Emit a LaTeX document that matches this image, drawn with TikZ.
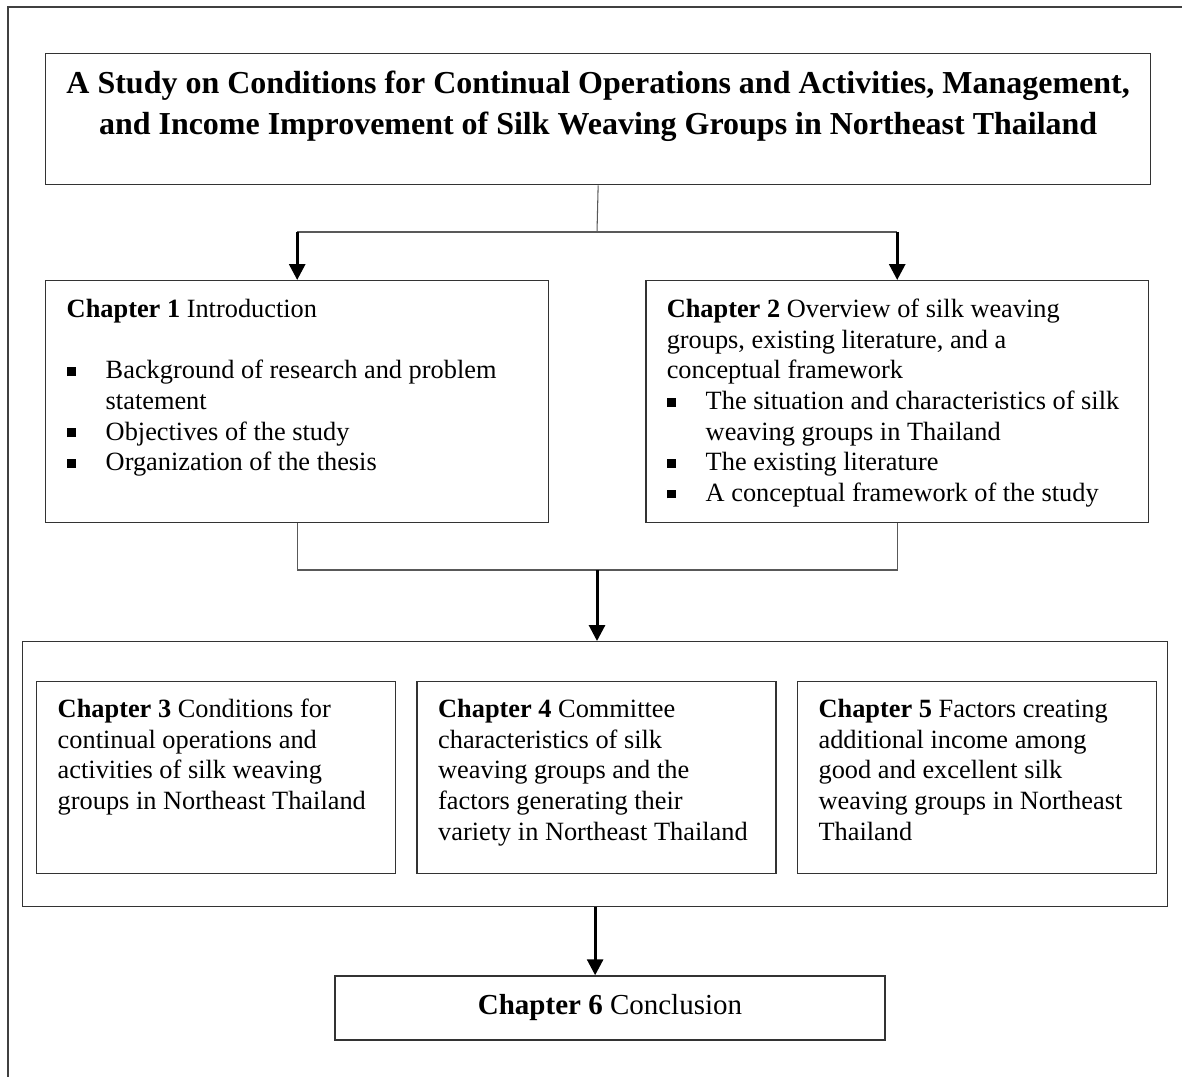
\documentclass[tikz,border=0pt]{standalone}
\usepackage{fontspec}
\setmainfont{Liberation Serif}
\usetikzlibrary{positioning, arrows.meta}
\newcommand{\sqb}{\makebox[0.78cm][l]{\rule[1.6pt]{5pt}{5pt}}}
\newcommand{\hang}{\hspace*{0.78cm}}

\tikzset{
  box/.style={draw=black!80, line width=0.85pt, anchor=north west, inner ysep=0pt,
    inner xsep=0.42cm, align=flush left, font=\fontsize{15}{17.4}\selectfont},
  bigbox/.style={box, text width=9.22cm, text height=0.74cm, text depth=4.1cm},
  chapbox/.style={box, text width=6.34cm, text height=0.72cm, text depth=3.12cm},
  link/.style={draw=black!65, line width=0.6pt},
  arr/.style={draw=black, line width=1.7pt, -{Triangle[width=9pt,length=9pt]}}
}

\begin{document}
\begin{tikzpicture}[x=0.02cm, y=-0.02cm]
\useasboundingbox (0,0) rectangle (1182,1077);
\draw[black!75, line width=0.85pt] (8,1077) -- (8,7) -- (1182,7); % page frame

\node[box, inner xsep=0pt, text width=22.1cm, align=flush center, text height=0.8cm, text depth=1.82cm,
  font=\fontsize{18.2}{23.3}\selectfont\bfseries] (title) at (45,53)
  {A Study on Conditions for Continual Operations and Activities, Management,\\
   and Income Improvement of Silk Weaving Groups in Northeast Thailand};

\node[bigbox] (ch1) at (45,280) {\textbf{Chapter 1} Introduction\\[17.4pt]
  \sqb Background of research and problem\\
  \hang statement\\
  \sqb Objectives of the study\\
  \sqb Organization of the thesis};
\node[bigbox] (ch2) at (645,280) {\textbf{Chapter 2} Overview of silk weaving\\
  groups, existing literature, and a\\
  conceptual framework\\
  \sqb The situation and characteristics of silk\\
  \hang weaving groups in Thailand\\
  \sqb The existing literature\\
  \sqb A conceptual framework of the study};

\node[box, minimum width=22.9cm, minimum height=5.3cm, inner sep=0pt] (group) at (22,641) {};
\node[chapbox] (ch3) at (36,681) {\textbf{Chapter 3} Conditions for\\
  continual operations and\\
  activities of silk weaving\\
  groups in Northeast Thailand};
\node[chapbox, right=0.4cm of ch3] (ch4) {\textbf{Chapter 4} Committee\\
  characteristics of silk\\
  weaving groups and the\\
  factors generating their\\
  variety in Northeast Thailand};
\node[chapbox, right=0.4cm of ch4] (ch5) {\textbf{Chapter 5} Factors creating\\
  additional income among\\
  good and excellent silk\\
  weaving groups in Northeast\\
  Thailand};

\node[box, anchor=center, minimum width=11cm, minimum height=1.28cm, align=center,
  font=\fontsize{16.5}{19}\selectfont] (ch6) at (610,1008) {\textbf{Chapter 6} Conclusion};

\coordinate (split) at (597,232);
\coordinate (join) at (597,570);
\draw[link] (title.south) -- (split);
\draw[link] (split -| ch1.north) -- (split -| ch2.north);
\draw[arr] (split -| ch1.north) -- (ch1.north);
\draw[arr] (split -| ch2.north) -- (ch2.north);
\draw[link] (ch1.south) |- (join) -| (ch2.south);
\draw[arr] (join) -- (join |- group.north);
\draw[arr] (group.south) -- (group.south |- ch6.north);
\end{tikzpicture}
\end{document}
